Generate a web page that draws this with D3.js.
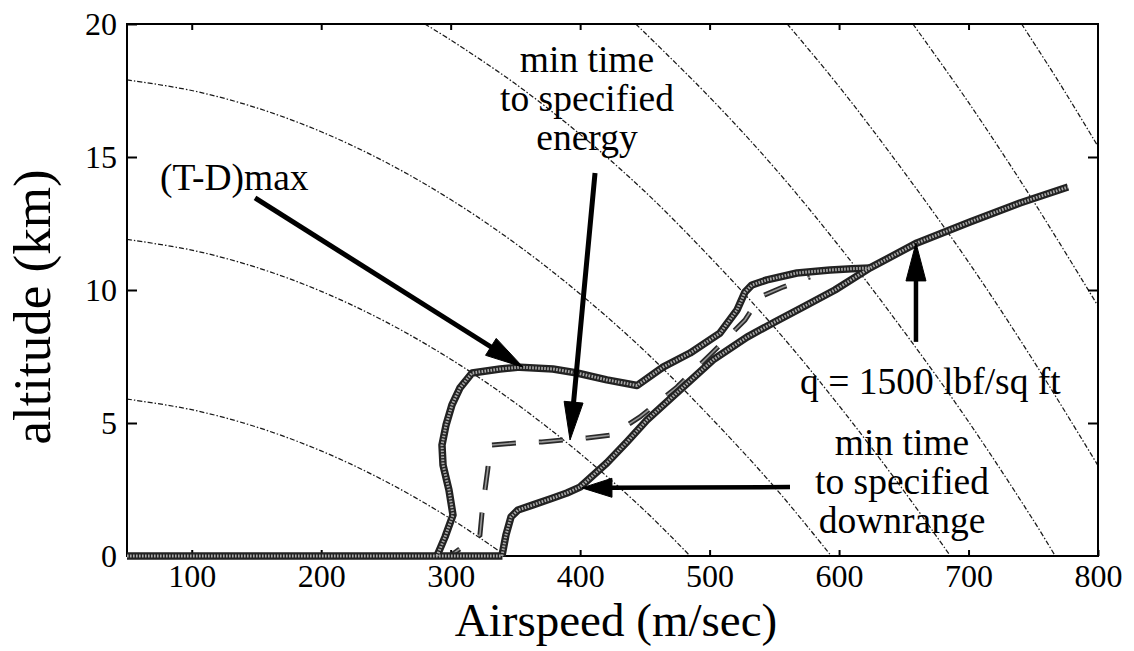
<!DOCTYPE html>
<html>
<head>
<meta charset="utf-8">
<script src="https://cdn.jsdelivr.net/npm/d3@7"></script>
<style>
  body { margin: 0; background: #fff; }
  svg { display: block; }
  text { font-family: "Liberation Serif", "Times New Roman", "DejaVu Serif", serif; }
  .energy { fill: none; stroke: #1a1a1a; stroke-width: 1.25; stroke-dasharray: 5 2 1.5 2; }
  .band-outer { fill: none; stroke: #222; stroke-width: 7.5; stroke-linejoin: round; }
  .band-inner { fill: none; stroke: #a8a8a8; stroke-width: 3; stroke-dasharray: 1.6 1.4; }
  .dash-outer { fill: none; stroke: #2a2a2a; stroke-width: 5; stroke-dasharray: 24 23; stroke-dashoffset: 12; }
  .dash-inner { fill: none; stroke: #999; stroke-width: 1.6; stroke-dasharray: 24 23; stroke-dashoffset: 12; }
  .arrow { stroke: #000; fill: #000; }
  .note { font-size: 37.5px; fill: #000; }
  .title { font-size: 47px; fill: #000; }
</style>
</head>
<body>
<div id="chart"></div>
<script>
// axis ticks
var xTicks = [100, 200, 300, 400, 500, 600, 700, 800];
var yTicks = [0, 5, 10, 15, 20];

// constant energy-height curves (dotted), [airspeed m/s, altitude km]
var curveE6  = [[50,5.9],[100,5.5],[150,4.85],[200,3.95],[250,2.8],[300,1.4],[343,0]];
var curveE12 = [[50,11.9],[100,11.5],[150,10.85],[200,9.95],[250,8.8],[300,7.4],[350,5.75],[400,3.85],[450,1.7],[485,0]];
var curveE18 = [[50,17.9],[100,17.5],[150,16.85],[200,15.95],[250,14.8],[300,13.4],[350,11.75],[400,9.85],[450,7.7],[500,5.25],[550,2.6],[594,0]];
var curveE24 = [[280,20],[300,19.4],[350,17.75],[400,15.85],[450,13.7],[500,11.25],[550,8.6],[600,5.65],[650,2.45],[686,0]];
var curveE30 = [[443,20],[500,17.25],[550,14.6],[600,11.65],[650,8.45],[700,5.05],[750,1.35],[767,0]];
var curveE36 = [[560,20],[600,17.65],[650,14.45],[700,11.05],[750,7.35],[800,3.4]];
var curveE42 = [[657,20],[700,17.05],[750,13.35],[800,9.4]];
var curveE48 = [[741,20],[770,17.8],[800,15.4]];
var energyCurves = [curveE6, curveE12, curveE18, curveE24, curveE30, curveE36, curveE42, curveE48];

// trajectories
var groundRun = [[50,0],[340,0]];
var maxExcessThrust = [[289.4,0],[295.6,0.71],[301.8,1.54],[298.7,2.48],[294.1,3.42],[293.3,4.17],[296.4,4.92],
  [301,5.68],[307.2,6.32],[316.5,6.88],[338.1,7.03],[353.5,7.1],[379,7.03],[397.6,6.88],[420.7,6.62],[444,6.41],
  [464,7.1],[484.9,7.63],[508,8.38],[521.2,9.25],[527.3,9.92],[532.7,10.19],[544.3,10.38],[567.5,10.64],
  [593,10.75],[610,10.8],[623.9,10.83]];
var minTimeDownrange = [[339.6,0],[342.7,0.79],[346.6,1.47],[352,1.73],[363.6,1.92],[379,2.18],[389.8,2.37],
  [399.9,2.59],[420.7,3.5],[436.2,4.29],[451.6,5.11],[477.1,6.24],[502.6,7.37],[528.9,8.23],[548.9,8.76],
  [573.7,9.4],[596.8,10.0],[623.9,10.83],[660.2,11.77],[701.1,12.56],[739.7,13.27],[776.8,13.87]];
var minTimeEnergy = [[299.5,0],[311.1,0.41],[322.6,0.79],[324.2,1.62],[326.5,2.48],[328.8,3.31],[330.4,4.17],
  [351.2,4.25],[370.5,4.29],[405.3,4.44],[424.6,4.55],[446.2,5.23],[474.8,6.35],[501.8,7.63],[527.3,8.87],
  [538.9,9.74],[556.7,10.11],[577.5,10.49]];

// annotation arrows, [from, to] in data units
var arrowLines = [
  {from: [148.9,13.46], to: [355.9,7.1], width: 5, head: 38, half: 10},
  {from: [411.5,14.4], to: [392.2,4.36], width: 5, head: 38, half: 9.5},
  {from: [562.1,2.59], to: [401.4,2.56], width: 4.5, head: 30, half: 9.5},
  {from: [659.4,8.05], to: [659.4,11.77], width: 4.5, head: 38, half: 10}
];

var width = 1134, height = 651;
var margin = {left: 127, right: 1098, top: 24, bottom: 556};

var x = d3.scaleLinear().domain([50, 800]).range([margin.left, margin.right]);
var y = d3.scaleLinear().domain([0, 20]).range([margin.bottom, margin.top]);

var svg = d3.select('#chart').append('svg')
  .attr('width', width)
  .attr('height', height);

svg.append('clipPath').attr('id', 'plotclip')
  .append('rect')
  .attr('x', margin.left).attr('y', margin.top)
  .attr('width', margin.right - margin.left)
  .attr('height', margin.bottom - margin.top);

var line = d3.line().x(function(d) { return x(d[0]); }).y(function(d) { return y(d[1]); });
var smooth = d3.line().x(function(d) { return x(d[0]); }).y(function(d) { return y(d[1]); })
  .curve(d3.curveCatmullRom.alpha(0.5));

var gCurves = svg.append('g').attr('clip-path', 'url(#plotclip)');
gCurves.selectAll('path.energy')
  .data(energyCurves)
  .enter().append('path')
  .attr('class', 'energy')
  .attr('d', smooth);

// frame + ticks
var gAxes = svg.append('g');

var xBottom = d3.axisBottom(x).tickValues(xTicks).tickSizeInner(-6).tickSizeOuter(0).tickPadding(8);
var xTop = d3.axisTop(x).tickValues(xTicks.slice(0, -1)).tickSizeInner(-6).tickSizeOuter(0).tickFormat('');
var yLeft = d3.axisLeft(y).tickValues(yTicks).tickSizeInner(-10).tickSizeOuter(0).tickPadding(10);
var yRight = d3.axisRight(y).tickValues(yTicks.slice(1, -1)).tickSizeInner(-10).tickSizeOuter(0).tickFormat('');

function styleAxis(g) {
  g.select('.domain').remove();
  g.selectAll('line').attr('stroke', '#000').attr('stroke-width', 2);
  g.attr('font-size', 32).attr('font-family', '"Liberation Serif", "Times New Roman", serif');
  g.selectAll('text').attr('fill', '#000');
}

gAxes.append('g').attr('transform', 'translate(0,' + margin.bottom + ')').call(xBottom).call(styleAxis);
gAxes.append('g').attr('transform', 'translate(0,' + margin.top + ')').call(xTop).call(styleAxis);
gAxes.append('g').attr('transform', 'translate(' + margin.left + ',0)').call(yLeft).call(styleAxis);
gAxes.append('g').attr('transform', 'translate(' + margin.right + ',0)').call(yRight).call(styleAxis);

gAxes.append('rect')
  .attr('x', margin.left).attr('y', margin.top)
  .attr('width', margin.right - margin.left)
  .attr('height', margin.bottom - margin.top)
  .attr('fill', 'none').attr('stroke', '#000').attr('stroke-width', 2);

// trajectory bands
var bands = [groundRun, maxExcessThrust, minTimeDownrange];
var gBands = svg.append('g');

gBands.selectAll('path.dash-outer')
  .data([minTimeEnergy])
  .enter().append('path')
  .attr('class', 'dash-outer')
  .attr('d', line);

gBands.selectAll('path.dash-inner')
  .data([minTimeEnergy])
  .enter().append('path')
  .attr('class', 'dash-inner')
  .attr('d', line);

gBands.selectAll('path.band-outer')
  .data(bands)
  .enter().append('path')
  .attr('class', 'band-outer')
  .attr('d', line);

gBands.selectAll('path.band-inner')
  .data(bands)
  .enter().append('path')
  .attr('class', 'band-inner')
  .attr('d', line);

// arrows
var gArrows = svg.append('g');
arrowLines.forEach(function(a) {
  var x0 = x(a.from[0]), y0 = y(a.from[1]), x1 = x(a.to[0]), y1 = y(a.to[1]);
  var len = Math.sqrt((x1 - x0) * (x1 - x0) + (y1 - y0) * (y1 - y0));
  var ux = (x1 - x0) / len, uy = (y1 - y0) / len;
  var bx = x1 - ux * a.head, by = y1 - uy * a.head;
  gArrows.append('line')
    .attr('class', 'arrow')
    .attr('x1', x0).attr('y1', y0)
    .attr('x2', bx + ux * 4).attr('y2', by + uy * 4)
    .attr('stroke-width', a.width);
  gArrows.append('path')
    .attr('class', 'arrow')
    .attr('stroke-width', 1)
    .attr('d', 'M' + x1 + ',' + y1 +
      'L' + (bx - uy * a.half) + ',' + (by + ux * a.half) +
      'L' + (bx + uy * a.half) + ',' + (by - ux * a.half) + 'Z');
});

// notes
function multiline(lines, cx, baseline, step, anchor) {
  var t = svg.append('text').attr('class', 'note').attr('text-anchor', anchor);
  lines.forEach(function(s, i) {
    t.append('tspan').attr('x', cx).attr('y', baseline + i * step).text(s);
  });
}

multiline(['min time', 'to specified', 'energy'], 587, 72, 39, 'middle');
multiline(['(T-D)max'], 160, 190, 0, 'start');
multiline(['q = 1500 lbf/sq ft'], 800, 394, 0, 'start');
multiline(['min time', 'to specified', 'downrange'], 902, 455, 39, 'middle');

// axis titles
svg.append('text')
  .attr('class', 'title')
  .attr('text-anchor', 'middle')
  .attr('x', 616).attr('y', 636)
  .text('Airspeed (m/sec)');

svg.append('text')
  .attr('class', 'title')
  .attr('text-anchor', 'middle')
  .attr('transform', 'translate(50,307)rotate(-90)')
  .style('font-size', '53px')
  .text('altitude (km)');
</script>
</body>
</html>
